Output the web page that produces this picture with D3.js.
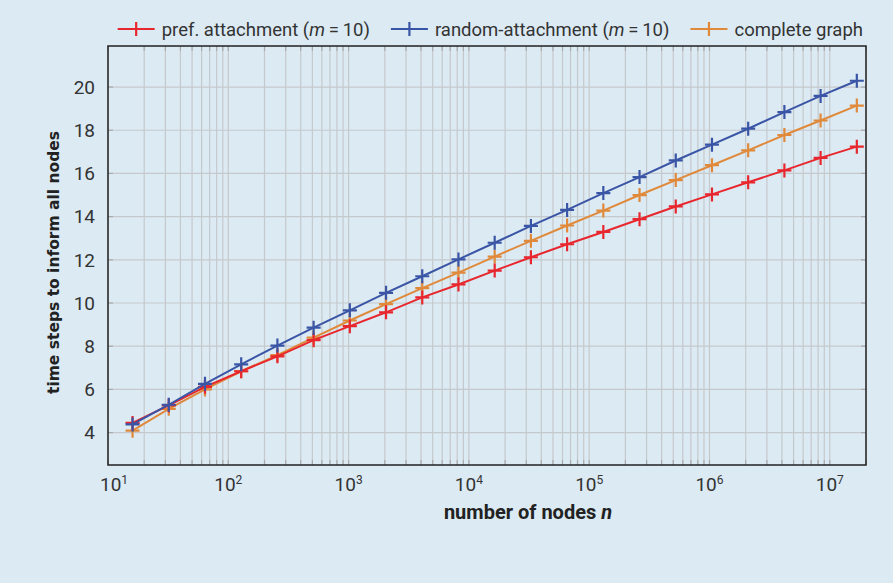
<!DOCTYPE html>
<html>
<head>
<meta charset="utf-8">
<script src="https://cdn.jsdelivr.net/npm/d3@7"></script>
<style>
  html, body { margin: 0; padding: 0; background: #dbeaf3; }
  svg { display: block; }
  .tick-label { font-family: "Roboto", sans-serif; fill: #333; }
</style>
</head>
<body>
<div id="chart"></div>
<script>
// --- 1. DATA ---
const nodeCounts = [16, 32, 64, 128, 256, 512, 1024, 2048, 4096, 8192, 16384, 32768,
  65536, 131072, 262144, 524288, 1048576, 2097152, 4194304, 8388608, 16777216];

const prefAttachment = [4.45, 5.26, 6.12, 6.84, 7.53, 8.28, 8.93, 9.57, 10.26, 10.86, 11.5,
  12.12, 12.72, 13.29, 13.88, 14.47, 15.03, 15.59, 16.14, 16.72, 17.24];
const randomAttachment = [4.38, 5.29, 6.26, 7.16, 8.03, 8.86, 9.66, 10.47, 11.24, 12.02, 12.79,
  13.57, 14.31, 15.09, 15.83, 16.6, 17.33, 18.07, 18.84, 19.59, 20.29];
const completeGraph = [4.09, 5.1, 6.0, 6.84, 7.59, 8.4, 9.19, 9.95, 10.69, 11.41, 12.15,
  12.88, 13.59, 14.28, 15.0, 15.69, 16.38, 17.07, 17.78, 18.45, 19.14];

const seriesColors = ["#e8262d", "#3a55a5", "#e0893a"];
const yTicks = [4, 6, 8, 10, 12, 14, 16, 18, 20];
const xDecades = [1, 2, 3, 4, 5, 6, 7];

// --- 2. SETUP ---
const W = 893, H = 583;
const margin = { top: 46, right: 27, bottom: 118, left: 108 };
const width = W - margin.left - margin.right;
const height = H - margin.top - margin.bottom;

const svg = d3.select("#chart").append("svg")
  .attr("width", W).attr("height", H);

svg.append("rect").attr("width", W).attr("height", H).attr("fill", "#dbeaf3");

const g = svg.append("g").attr("transform", `translate(${margin.left},${margin.top})`);

// --- 3. SCALES ---
const x = d3.scaleLog().domain([10, 2e7]).range([0, width]);
const y = d3.scaleLinear().domain([2.5, 21.9]).range([height, 0]);

// minor ticks 1..9 x 10^k
const minorVals = [];
for (let k = 1; k <= 7; k++) {
  for (let m = 1; m <= 9; m++) {
    const v = m * Math.pow(10, k);
    if (v >= 10 && v <= 2e7) minorVals.push(v);
  }
}

// --- 4. GRID ---
g.append("g").selectAll("line").data(minorVals).enter().append("line")
  .attr("x1", d => x(d)).attr("x2", d => x(d))
  .attr("y1", 0).attr("y2", height)
  .attr("stroke", "#c6c9cc").attr("stroke-width", 1.2);

g.append("g").selectAll("line").data(yTicks).enter().append("line")
  .attr("x1", 0).attr("x2", width)
  .attr("y1", d => y(d)).attr("y2", d => y(d))
  .attr("stroke", "#c6c9cc").attr("stroke-width", 1.2);

// inner tick marks (bottom, top, left, right)
const tickLen = 5;
const tk = g.append("g").attr("stroke", "#a8abae").attr("stroke-width", 1.2);
minorVals.forEach(v => {
  tk.append("line").attr("x1", x(v)).attr("x2", x(v)).attr("y1", height).attr("y2", height - tickLen);
  tk.append("line").attr("x1", x(v)).attr("x2", x(v)).attr("y1", 0).attr("y2", tickLen);
});
yTicks.forEach(v => {
  tk.append("line").attr("x1", 0).attr("x2", tickLen).attr("y1", y(v)).attr("y2", y(v));
  tk.append("line").attr("x1", width).attr("x2", width - tickLen).attr("y1", y(v)).attr("y2", y(v));
});

// frame
g.append("rect").attr("width", width).attr("height", height)
  .attr("fill", "none").attr("stroke", "#222").attr("stroke-width", 1.5);

// --- 5. TICK LABELS ---
g.append("g").selectAll("text").data(yTicks).enter().append("text")
  .attr("class", "tick-label")
  .attr("x", -13).attr("y", d => y(d)).attr("dy", "0.36em")
  .attr("text-anchor", "end").style("font-size", "19px")
  .text(d => d);

const xl = g.append("g").selectAll("text").data(xDecades).enter().append("text")
  .attr("class", "tick-label")
  .attr("x", d => x(Math.pow(10, d)) + (d === 1 ? 6 : 0)).attr("y", height + 26)
  .attr("text-anchor", "middle").style("font-size", "19px");
xl.append("tspan").text("10");
xl.append("tspan").attr("dy", "-7").style("font-size", "12px").text(d => d);

// axis titles
g.append("text")
  .attr("x", width / 2 + 41).attr("y", height + 54)
  .attr("text-anchor", "middle")
  .style("font-family", "'Roboto', sans-serif")
  .style("font-weight", "bold").style("font-size", "20px").attr("fill", "#222")
  .html("number of nodes <tspan font-style='italic'>n</tspan>");

g.append("text")
  .attr("transform", "rotate(-90)")
  .attr("x", -(height / 2 + 7)).attr("y", -49)
  .attr("text-anchor", "middle")
  .style("font-family", "'DejaVu Sans', sans-serif")
  .style("font-weight", "bold").style("font-size", "15.5px").attr("fill", "#222")
  .text("time steps to inform all nodes");

// --- 6. LINES & MARKERS ---
const allSeries = [prefAttachment, randomAttachment, completeGraph];
const line = d3.line().x((d, i) => x(nodeCounts[i])).y(d => y(d));
const mk = 7;

function drawPlus(sel, cx, cy, color) {
  sel.append("path")
    .attr("d", `M${cx - mk},${cy}H${cx + mk}M${cx},${cy - mk}V${cy + mk}`)
    .attr("stroke", color).attr("stroke-width", 2.2).attr("fill", "none");
}

[2, 0, 1].forEach(si => {
  const vals = allSeries[si];
  const col = seriesColors[si];
  g.append("path").datum(vals)
    .attr("d", line).attr("fill", "none")
    .attr("stroke", col).attr("stroke-width", 2);
  const ms = g.append("g");
  vals.forEach((v, i) => drawPlus(ms, x(nodeCounts[i]), y(v), col));
});

// --- 7. LEGEND ---
const legend = svg.append("g").attr("transform", "translate(0,29)");
const legendLabels = [
  "pref. attachment (<tspan font-style='italic'>m</tspan>\u2009=\u200910)",
  "random-attachment (<tspan font-style='italic'>m</tspan>\u2009=\u200910)",
  "complete graph"
];
const items = [];
legendLabels.forEach((lab, i) => {
  const it = legend.append("g");
  it.append("line").attr("x1", 0).attr("x2", 37).attr("y1", 0).attr("y2", 0)
    .attr("stroke", seriesColors[i]).attr("stroke-width", 2);
  drawPlus(it, 18.5, 0, seriesColors[i]);
  const t = it.append("text").attr("class", "tick-label")
    .attr("x", 44).attr("y", 0).attr("dy", "0.36em")
    .style("font-size", "18.5px").html(lab);
  items.push({ it, w: 44 + t.node().getComputedTextLength() });
});
// right-align the legend row with the plot frame
let cursor = margin.left + width - 3;
for (let i = items.length - 1; i >= 0; i--) {
  cursor -= items[i].w;
  items[i].it.attr("transform", `translate(${cursor},0)`);
  cursor -= 21;
}
</script>
</body>
</html>
